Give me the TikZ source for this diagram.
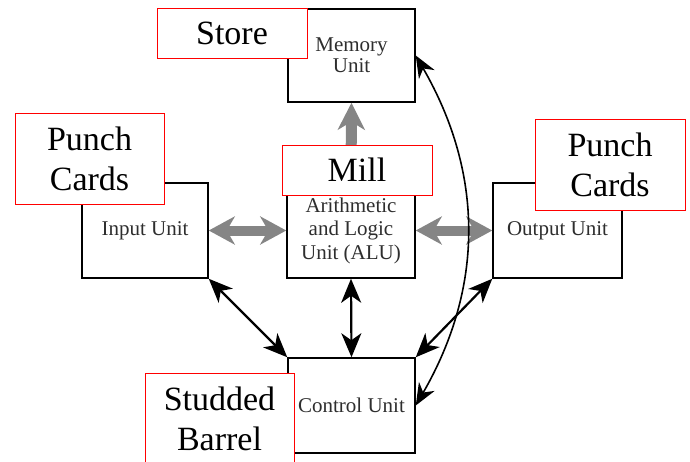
\documentclass[tikz,border=0pt]{standalone}
\usepackage{fontspec}
\setmainfont{Liberation Serif}
\usetikzlibrary{arrows.meta}
\begin{document}
\begin{tikzpicture}[x=1pt,y=-1pt,
  unitbox/.style={draw=black,line width=1.5pt,fill=white,inner sep=0pt,align=center,
    font=\fontsize{21}{22}\selectfont,text=black!82},
  redbox/.style={draw=red,line width=0.9pt,fill=white,inner sep=0pt,align=center,
    font=\fontsize{34}{40}\selectfont},
  grayarrow/.style={line width=10pt,draw=black!48,
    {Stealth[length=26pt,width=28pt,inset=8pt]}-{Stealth[length=26pt,width=28pt,inset=8pt]}},
  grayup/.style={line width=11pt,draw=black!48,-{Stealth[length=27pt,width=27pt,inset=8pt]}},
  blackarrow/.style={line width=2.2pt,{Stealth[length=24pt,width=20pt,inset=7pt]}-{Stealth[length=24pt,width=20pt,inset=7pt]}},
  curvearrow/.style={line width=1.6pt,{Stealth[length=22pt,width=18pt,inset=7pt]}-{Stealth[length=22pt,width=18pt,inset=7pt]}}
]
\useasboundingbox (0,0) rectangle (690,461);

% unit boxes
\node[unitbox,minimum width=127pt,minimum height=93pt] (mem) at (351.5,55.5) {Memory\\[-1pt]Unit};
\node[unitbox,minimum width=126pt,minimum height=95pt] (inp) at (145,230.5) {Input Unit};
\node[unitbox,minimum width=128pt,minimum height=95pt,font=\fontsize{21}{23.5}\selectfont] (alu) at (351,230.5) {Arithmetic\\and Logic\\Unit (ALU)};
\node[unitbox,minimum width=129pt,minimum height=95pt] (out) at (557.5,230.5) {Output Unit};
\node[unitbox,minimum width=127pt,minimum height=95pt] (ctl) at (351.5,405.5) {Control Unit};

% gray arrows
\draw[grayarrow] (inp.east) -- (alu.west);
\draw[grayarrow] (alu.east) -- (out.west);
\draw[grayup] (alu.north) -- (mem.south);

% black arrows
\draw[blackarrow] (inp.south east) -- (ctl.north west);
\draw[blackarrow] (alu.south) -- (ctl.north);
\draw[blackarrow] (out.south west) -- (ctl.north east);
\draw[curvearrow] (mem.east) to[bend left=30] (ctl.east);

% red label boxes
\node[redbox,minimum width=150pt,minimum height=50pt] (store) at (232,33) {Store};
\node[redbox,minimum width=149pt,minimum height=91pt] (pcl) at (89.5,158.5) {Punch\\Cards};
\node[redbox,minimum width=150pt,minimum height=50pt] (mill) at (357,170) {Mill};
\node[redbox,minimum width=150pt,minimum height=91pt] (pcr) at (610,164.5) {Punch\\Cards};
\node[redbox,minimum width=149pt,minimum height=92pt] (barrel) at (219.5,419) {Studded\\Barrel};
\end{tikzpicture}
\end{document}
